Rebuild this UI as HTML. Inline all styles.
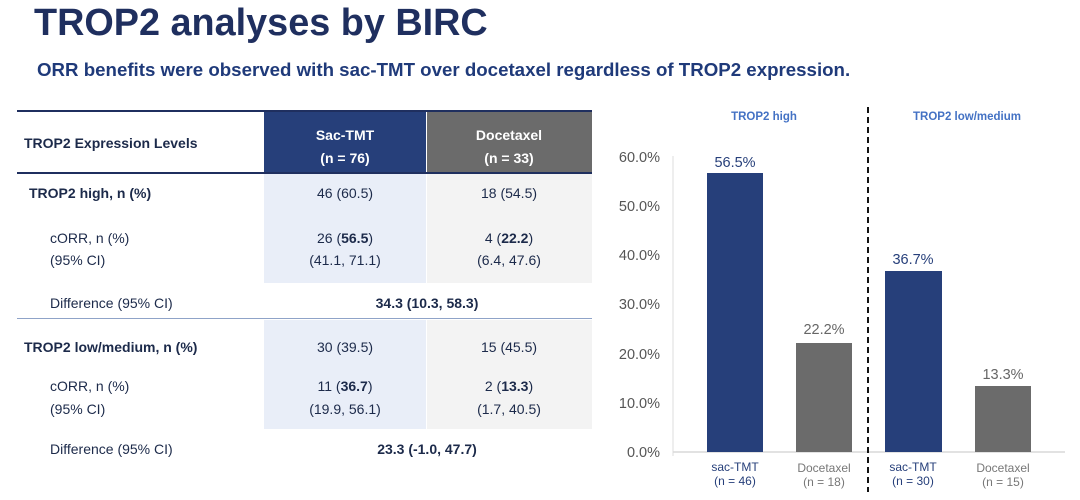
<!DOCTYPE html>
<html><head><style>
body{margin:0;width:1080px;height:500px;background:#fff;font-family:"Liberation Sans",Arial,sans-serif;position:relative;overflow:hidden}
.a{position:absolute;white-space:nowrap}
.c{transform:translateX(-50%)}
.t{font-size:14px;color:#1c2a4a}
.b{font-weight:bold}
</style></head><body>
<div class="a b" style="left:34px;top:2px;font-size:37.8px;color:#1f2f5f">TROP2 analyses by BIRC</div>
<div class="a b" style="left:37px;top:59px;font-size:18.7px;color:#1f3a7a">ORR benefits were observed with sac-TMT over docetaxel regardless of TROP2 expression.</div>

<!-- table -->
<div class="a" style="left:17px;top:110px;width:575px;height:2px;background:#1f2f5f"></div>
<div class="a" style="left:264px;top:112px;width:162px;height:61px;background:#263f7a"></div>
<div class="a" style="left:427px;top:112px;width:165px;height:61px;background:#6b6b6b"></div>
<div class="a" style="left:17px;top:172px;width:575px;height:2px;background:#1f2f5f"></div>
<div class="a" style="left:264px;top:174px;width:162px;height:109px;background:#e9eef8"></div>
<div class="a" style="left:427px;top:174px;width:165px;height:109px;background:#f3f3f3"></div>
<div class="a" style="left:264px;top:320px;width:162px;height:109px;background:#e9eef8"></div>
<div class="a" style="left:427px;top:320px;width:165px;height:109px;background:#f3f3f3"></div>
<div class="a" style="left:17px;top:318px;width:575px;height:1px;background:#8fa3c8"></div>

<div class="a t b" style="left:24px;top:135px">TROP2 Expression Levels</div>
<div class="a b c" style="left:345px;top:124px;font-size:14px;color:#fff;text-align:center;line-height:23px">Sac-TMT<br>(n = 76)</div>
<div class="a b c" style="left:509px;top:124px;font-size:14px;color:#fff;text-align:center;line-height:23px">Docetaxel<br>(n = 33)</div>

<div class="a t b" style="left:29px;top:185px">TROP2 high, n (%)</div>
<div class="a t c" style="left:345px;top:185px">46 (60.5)</div>
<div class="a t c" style="left:509px;top:185px">18 (54.5)</div>
<div class="a t" style="left:50px;top:230px">cORR, n (%)</div>
<div class="a t" style="left:50px;top:252px">(95% CI)</div>
<div class="a t c" style="left:345px;top:230px">26 (<b>56.5</b>)</div>
<div class="a t c" style="left:509px;top:230px">4 (<b>22.2</b>)</div>
<div class="a t c" style="left:345px;top:252px">(41.1, 71.1)</div>
<div class="a t c" style="left:509px;top:252px">(6.4, 47.6)</div>
<div class="a t" style="left:50px;top:295px">Difference (95% CI)</div>
<div class="a t b c" style="left:427px;top:295px">34.3 (10.3, 58.3)</div>

<div class="a t b" style="left:24px;top:339px">TROP2 low/medium, n (%)</div>
<div class="a t c" style="left:345px;top:339px">30 (39.5)</div>
<div class="a t c" style="left:509px;top:339px">15 (45.5)</div>
<div class="a t" style="left:50px;top:378px">cORR, n (%)</div>
<div class="a t" style="left:50px;top:401px">(95% CI)</div>
<div class="a t c" style="left:345px;top:378px">11 (<b>36.7</b>)</div>
<div class="a t c" style="left:509px;top:378px">2 (<b>13.3</b>)</div>
<div class="a t c" style="left:345px;top:401px">(19.9, 56.1)</div>
<div class="a t c" style="left:509px;top:401px">(1.7, 40.5)</div>
<div class="a t" style="left:50px;top:441px">Difference (95% CI)</div>
<div class="a t b c" style="left:427px;top:441px">23.3 (-1.0, 47.7)</div>

<!-- chart -->
<svg class="a" style="left:0;top:0" width="1080" height="500" font-family="Liberation Sans,Arial,sans-serif">
<g font-size="14.5" fill="#555" text-anchor="end">
<text x="660" y="162">60.0%</text><text x="660" y="211">50.0%</text><text x="660" y="260">40.0%</text>
<text x="660" y="309">30.0%</text><text x="660" y="359">20.0%</text><text x="660" y="408">10.0%</text><text x="660" y="457">0.0%</text>
</g>
<line x1="673" y1="156" x2="673" y2="456" stroke="#ddd"/>
<line x1="673" y1="452" x2="1065" y2="452" stroke="#d9d9d9" stroke-width="1.5"/>
<rect x="707" y="173" width="56" height="279" fill="#263f7a"/>
<rect x="796" y="343" width="56" height="109" fill="#6b6b6b"/>
<rect x="885" y="271" width="57" height="181" fill="#263f7a"/>
<rect x="975" y="386" width="56" height="66" fill="#6b6b6b"/>
<g font-size="14.5" text-anchor="middle">
<text x="735" y="167" fill="#263f7a">56.5%</text>
<text x="824" y="334" fill="#666">22.2%</text>
<text x="913" y="264" fill="#263f7a">36.7%</text>
<text x="1003" y="379" fill="#666">13.3%</text>
</g>
<g font-size="12" text-anchor="middle">
<text x="735" y="471" fill="#263f7a">sac-TMT</text><text x="735" y="485" fill="#263f7a">(n = 46)</text>
<text x="824" y="472" fill="#777">Docetaxel</text><text x="824" y="486" fill="#777">(n = 18)</text>
<text x="913" y="471" fill="#263f7a">sac-TMT</text><text x="913" y="485" fill="#263f7a">(n = 30)</text>
<text x="1003" y="472" fill="#777">Docetaxel</text><text x="1003" y="486" fill="#777">(n = 15)</text>
</g>
<g font-size="11.5" font-weight="bold" fill="#4472c4" text-anchor="middle">
<text x="764" y="120">TROP2 high</text>
<text x="967" y="120">TROP2 low/medium</text>
</g>
<line x1="868" y1="107" x2="868" y2="492" stroke="#111" stroke-width="2" stroke-dasharray="6,4"/>
</svg>
</body></html>
